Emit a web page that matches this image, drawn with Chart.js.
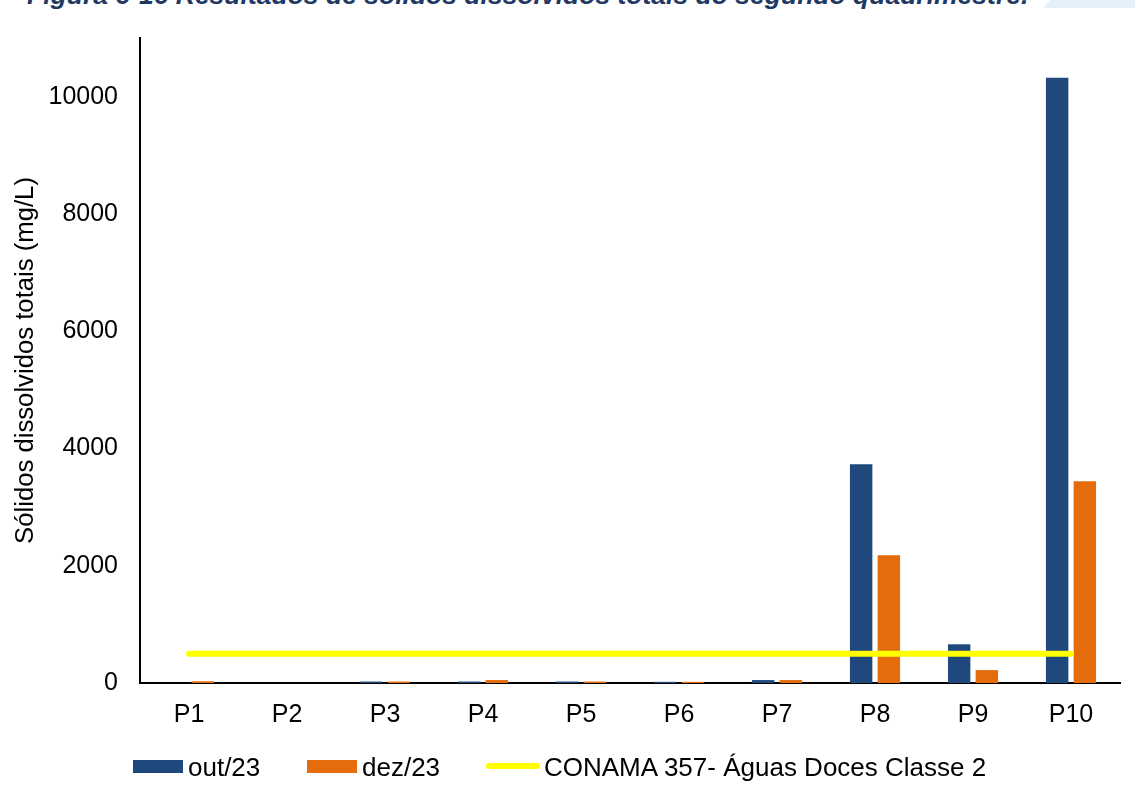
<!DOCTYPE html>
<html>
<head>
<meta charset="utf-8">
<script src="https://cdn.jsdelivr.net/npm/chart.js@4.4.1/dist/chart.umd.min.js"></script>
<style>
  html, body { margin: 0; padding: 0; background: #fff; }
  #wrap { position: relative; width: 1135px; height: 798px; overflow: hidden; font-family: "Liberation Sans", Arial, sans-serif; }
  #chart { position: absolute; left: 0; top: 0; }
  #figtitle { position: absolute; left: 27px; top: -20px; white-space: nowrap; font: italic bold 26.5px "Liberation Sans", Arial, sans-serif; color: #1F3864; }
  #band { position: absolute; left: 1043px; top: 0; width: 92px; height: 8px; background: #E6F0FA; clip-path: polygon(7px 0, 100% 0, 100% 100%, 0 100%); }
  .leg { position: absolute; top: 752px; height: 30px; line-height: 30px; font-size: 26px; color: #000; white-space: nowrap; }
  .sw { position: absolute; }
</style>
</head>
<body>
<div id="wrap">
  <div id="figtitle">Figura 6-16 Resultados de sólidos dissolvidos totais do segundo quadrimestre.</div>
  <div id="band"></div>
  <canvas id="chart" width="1135" height="798"></canvas>
  <div id="legend"></div>
</div>
<script>
const categories = ["P1", "P2", "P3", "P4", "P5", "P6", "P7", "P8", "P9", "P10"];
const out23 = [0, 0, 25, 25, 25, 20, 50, 3730, 660, 10320];
const dez23 = [30, 0, 25, 50, 25, 20, 50, 2180, 220, 3440];
const conama = [500, 500, 500, 500, 500, 500, 500, 500, 500, 500];
const seriesNames = ["out/23", "dez/23", "CONAMA 357- Águas Doces Classe 2"];
const yTicks = [0, 2000, 4000, 6000, 8000, 10000];

const colors = { out: "#1F497D", dez: "#E46C0A", line: "#FFFF00" };
const FONT = "'Liberation Sans', Arial, sans-serif";

new Chart(document.getElementById("chart"), {
  type: "bar",
  data: {
    labels: categories,
    datasets: [
      { type: "line", label: seriesNames[2], data: conama, borderColor: colors.line, backgroundColor: colors.line,
        borderWidth: 6, borderCapStyle: "round", pointRadius: 0, pointHoverRadius: 0, fill: false, order: 0, tension: 0 },
      { label: seriesNames[0], data: out23, backgroundColor: colors.out, order: 1,
        categoryPercentage: 0.565, barPercentage: 0.81 },
      { label: seriesNames[1], data: dez23, backgroundColor: colors.dez, order: 2,
        categoryPercentage: 0.565, barPercentage: 0.81 }
    ]
  },
  options: {
    responsive: false,
    animation: false,
    layout: { padding: { top: 38, left: 0, right: 15, bottom: 65 } },
    plugins: { legend: { display: false }, tooltip: { enabled: false }, title: { display: false } },
    scales: {
      x: {
        grid: { display: false, drawTicks: false },
        border: { display: true, color: "#000", width: 2 },
        ticks: { color: "#000", font: { family: FONT, size: 25 }, padding: 17, maxRotation: 0 },
        afterFit: (s) => { s.height = 50; }
      },
      y: {
        min: 0, max: 11000,
        grid: { display: false, drawTicks: false },
        border: { display: true, color: "#000", width: 2 },
        ticks: { color: "#000", font: { family: FONT, size: 25 }, padding: 22,
                 callback: (v) => String(v) },
        afterBuildTicks: (s) => { s.ticks = yTicks.map(v => ({ value: v })); },
        title: { display: true, text: "Sólidos dissolvidos totais (mg/L)", color: "#000",
                 font: { family: FONT, size: 25.7 }, padding: { top: 10, bottom: 0 } },
        afterFit: (s) => { s.width = 140; }
      }
    }
  }
});

// Legend (HTML, real text)
const legend = document.getElementById("legend");
const items = [
  { x: 133, kind: "box", color: colors.out, text: seriesNames[0] },
  { x: 307, kind: "box", color: colors.dez, text: seriesNames[1] },
  { x: 486, kind: "line", color: colors.line, text: seriesNames[2] }
];
items.forEach(it => {
  const sw = document.createElement("div");
  sw.className = "sw";
  if (it.kind === "box") {
    Object.assign(sw.style, { left: it.x + "px", top: "760px", width: "50px", height: "13px", background: it.color });
  } else {
    Object.assign(sw.style, { left: it.x + "px", top: "763px", width: "54px", height: "6px", background: it.color, borderRadius: "3px" });
  }
  legend.appendChild(sw);
  const t = document.createElement("div");
  t.className = "leg";
  t.textContent = it.text;
  t.style.left = (it.x + (it.kind === "box" ? 55 : 58)) + "px";
  legend.appendChild(t);
});
</script>
</body>
</html>
